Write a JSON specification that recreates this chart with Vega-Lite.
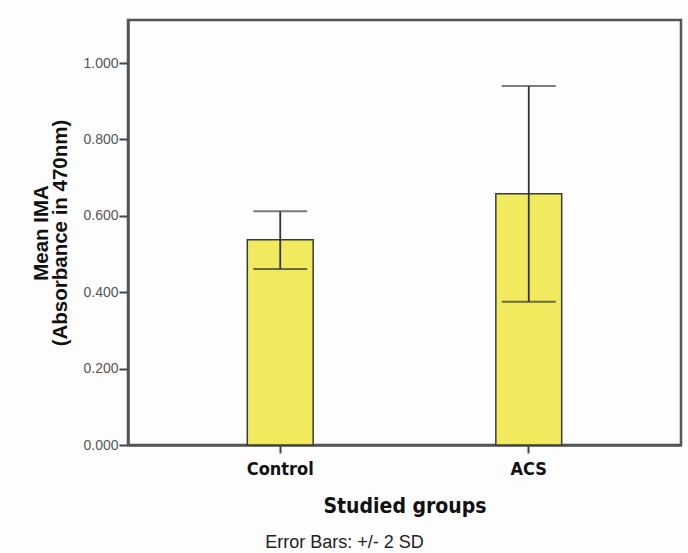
{
  "$schema": "https://vega.github.io/schema/vega-lite/v6.json",
  "autosize": "none",
  "width": 553,
  "height": 425,
  "padding": {"left": 128, "top": 20, "right": 7, "bottom": 108},
  "background": "#fdfdfd",
  "config": {
    "view": {"stroke": "#555555", "strokeWidth": 2.5},
    "font": "Liberation Sans"
  },
  "title": {
    "text": "Error Bars: +/- 2 SD",
    "orient": "bottom",
    "anchor": "middle",
    "frame": "group",
    "dx": -60,
    "offset": 18,
    "fontSize": 18,
    "fontWeight": "normal",
    "font": "Liberation Sans",
    "color": "#222222"
  },
  "data": {
    "values": [
      {"group": "Control", "mean": 0.537, "lower": 0.461, "upper": 0.612},
      {"group": "ACS", "mean": 0.658, "lower": 0.375, "upper": 0.940}
    ]
  },
  "encoding": {
    "x": {
      "field": "group",
      "type": "nominal",
      "sort": ["Control", "ACS"],
      "scale": {"paddingInner": 0.735, "paddingOuter": 0.48},
      "axis": {
        "title": "Studied groups",
        "titleFont": "DejaVu Sans Condensed",
        "titleFontSize": 21,
        "titleFontWeight": "bold",
        "titleColor": "#111111",
        "titlePadding": 17,
        "labelAngle": 0,
        "labelFont": "DejaVu Sans Condensed",
        "labelFontSize": 18,
        "labelFontWeight": "bold",
        "labelColor": "#111111",
        "labelPadding": 7,
        "tickSize": 8,
        "tickWidth": 2,
        "tickColor": "#444444",
        "domainColor": "#555555",
        "domainWidth": 2.5
      }
    }
  },
  "layer": [
    {
      "mark": {"type": "bar", "color": "#f2ea5e", "stroke": "#3a3a3a", "strokeWidth": 1.5},
      "encoding": {
        "y": {
          "field": "mean",
          "type": "quantitative",
          "scale": {"domain": [0, 1.1126], "nice": false},
          "axis": {
            "title": ["Mean IMA", "(Absorbance in 470nm)"],
            "titleFont": "Liberation Sans",
            "titleFontSize": 20.5,
            "titleFontWeight": "bold",
            "titleColor": "#111111",
            "titleLineHeight": 19,
            "titlePadding": 12,
            "values": [0, 0.2, 0.4, 0.6, 0.8, 1.0],
            "format": ".3f",
            "labelFontSize": 14,
            "labelColor": "#555555",
            "labelPadding": 1,
            "tickSize": 9,
            "tickWidth": 2,
            "tickColor": "#444444",
            "domainColor": "#555555",
            "domainWidth": 2.5,
            "grid": false
          }
        }
      }
    },
    {
      "mark": {"type": "rule", "color": "#333333", "strokeWidth": 1.8},
      "encoding": {
        "y": {"field": "lower", "type": "quantitative"},
        "y2": {"field": "upper"}
      }
    },
    {
      "mark": {"type": "tick", "orient": "horizontal", "color": "#444444", "thickness": 2, "size": 54},
      "encoding": {
        "y": {"field": "upper", "type": "quantitative"}
      }
    },
    {
      "mark": {"type": "tick", "orient": "horizontal", "color": "#333333", "thickness": 2, "size": 54},
      "encoding": {
        "y": {"field": "lower", "type": "quantitative"}
      }
    }
  ]
}
